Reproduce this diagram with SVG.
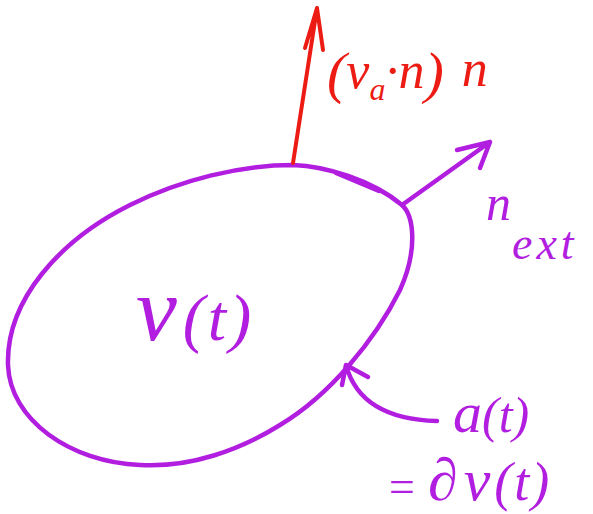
<svg xmlns="http://www.w3.org/2000/svg" width="593" height="514" viewBox="0 0 593 514">
<style>
.p{fill:none;stroke:#b21ee0;stroke-width:4.5;stroke-linecap:round;stroke-linejoin:round}
.r{fill:none;stroke:#ec1c14;stroke-width:4;stroke-linecap:round;stroke-linejoin:round}
.tp{fill:#b21ee0;font-family:"Liberation Serif",serif;font-style:italic}
.tr{fill:#ec1c14;font-family:"Liberation Serif",serif;font-style:italic}
</style>
<rect width="593" height="514" fill="#ffffff"/>
<g id="region">
<path class="p" d="M293,165 C325,166 372,180 402,205 C414,216 418,250 400,290 C375,340 330,395 280,425 C240,450 190,468 140,465 C70,462 10,420 8,365 C6,300 60,240 130,205 C180,180 240,165 293,165 Z"/>
<path class="p" d="M336,173 L379,191" stroke-width="6.5"/>
<text class="tp" font-size="92" x="136" y="340">v<tspan font-size="66" dx="6" letter-spacing="3">(t)</tspan></text>
</g>
<g id="connectors">
<path class="r" d="M293,163 L317,8 M305,48 L317,8 L323,50"/>
<path class="p" d="M402,205 L490,142 M457,150 L490,142 L480,168"/>
<path class="p" d="M437,421 C400,420 358,410 346,365 M368,377 L346,365 L342,385"/>
</g>
<g id="label-flux">
<text class="tr" font-size="58" x="327" y="92">(<tspan font-size="52" dy="-4">v</tspan><tspan font-size="32" dy="12">a</tspan><tspan font-size="52" dy="-12">·n</tspan><tspan font-size="58" dy="4">)</tspan><tspan font-size="52" dx="18" dy="-6">n</tspan></text>
</g>
<g id="label-normal">
<text class="tp" font-size="50" x="486" y="220">n</text>
<text class="tp" font-size="46" x="512" y="259" letter-spacing="4">ext</text>
</g>
<g id="label-boundary">
<text class="tp" font-size="58" x="453" y="432">a<tspan font-size="50">(t)</tspan></text>
<text class="tp" font-size="46" x="386" y="502">=</text>
<text class="tp" font-size="60" x="428" y="500">∂<tspan dx="6">v</tspan><tspan font-size="54" dx="4" letter-spacing="2">(t)</tspan></text>
</g>
</svg>
